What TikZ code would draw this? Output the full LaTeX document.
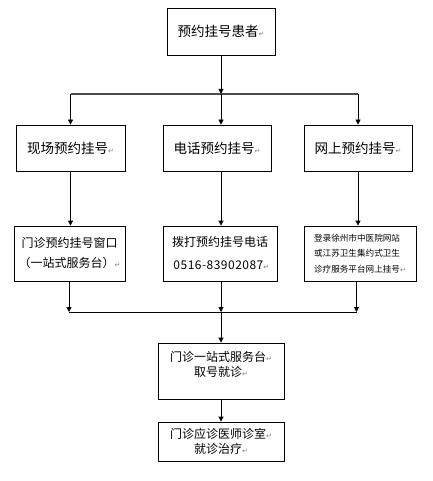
\documentclass[tikz,border=0pt]{standalone}
\usepackage{fontspec}
\setmainfont{Noto Sans CJK SC}
\newfontfamily\markfont{DejaVu Sans}
\usetikzlibrary{arrows.meta}
\newcommand\enter{{\markfont\fontsize{7}{7}\selectfont\textcolor{gray}{↵}}}
\begin{document}
\begin{tikzpicture}[x=1pt,y=-1pt,
	box/.style={draw, line width=0.8pt, inner sep=0pt, align=center},
	bigtxt/.style={font=\fontsize{13.5}{16}\selectfont},
	midtxt/.style={font=\fontsize{12}{20}\selectfont},
	arr/.style={-{Triangle[length=5pt,width=5pt]}, line width=0.8pt}]
		\useasboundingbox (0,0) rectangle (432,481);

		\node[box, bigtxt, minimum width=108pt, minimum height=47pt] (patient) at (221,31.5) {预约挂号患者\enter};

		\node[box, bigtxt, minimum width=109pt, minimum height=46pt] (onsite) at (70.5,148) {现场预约挂号\enter};
		\node[box, bigtxt, minimum width=108pt, minimum height=46pt] (phone) at (217,148) {电话预约挂号\enter};
		\node[box, bigtxt, minimum width=108pt, minimum height=46pt] (online) at (358,148) {网上预约挂号\enter};

		\node[box, midtxt, minimum width=111pt, minimum height=55pt] (window) at (69.5,253.5) {门诊预约挂号窗口\\（一站式服务台）\enter};
		\node[box, font=\fontsize{12}{24}\selectfont, minimum width=114pt, minimum height=55pt] (dial) at (220,253.5) {拨打预约挂号电话\\[-1pt]\ \addfontfeature{LetterSpace=4}0516-83902087\enter};
		\node[box, align=left, font=\fontsize{8.6}{15.5}\selectfont, minimum width=112pt, minimum height=55pt] (web) at (360,253.5) {登录徐州市中医院网站\\或江苏卫生集约式卫生\\诊疗服务平台网上挂号\enter};

		\node[box, font=\fontsize{12}{15}\selectfont, minimum width=126pt, minimum height=56pt] (take) at (221,371) {门诊一站式服务台\enter\\取号就诊\enter\\ \mbox{}};
		\node[box, font=\fontsize{12}{15}\selectfont, minimum width=126pt, minimum height=39pt] (treat) at (221,441.5) {门诊应诊医师诊室\enter\\就诊治疗\enter};

		\coordinate (split) at (221,94);
		\coordinate (splitL) at (70.5,94);
		\coordinate (splitR) at (358,94);
		\coordinate (merge) at (221,312);
		\coordinate (mergeL) at (69,312);
		\coordinate (mergeR) at (356.5,312);

		\draw[arr] (patient) -- (split);
		\draw[line width=2pt, black!70] (splitL) -- (splitR);
		\draw[arr] (splitL) -- (onsite);
		\draw[arr] (split) -- (split |- phone.north);
		\draw[arr] (splitR) -- (online);

		\draw[arr] (onsite) -- (onsite |- window.north);
		\draw[arr] (split |- phone.south) -- (split |- dial.north);
		\draw[arr] (online) -- (online |- web.north);

		\draw[arr] (mergeL |- window.south) -- (mergeL);
		\draw[arr] (merge |- dial.south) -- (merge);
		\draw[arr] (mergeR |- web.south) -- (mergeR);
		\draw[line width=0.8pt] (mergeL) -- (mergeR);

		\draw[arr] (merge) -- (take);
		\draw[arr] (take) -- (treat);
	\end{tikzpicture}
\end{document}
